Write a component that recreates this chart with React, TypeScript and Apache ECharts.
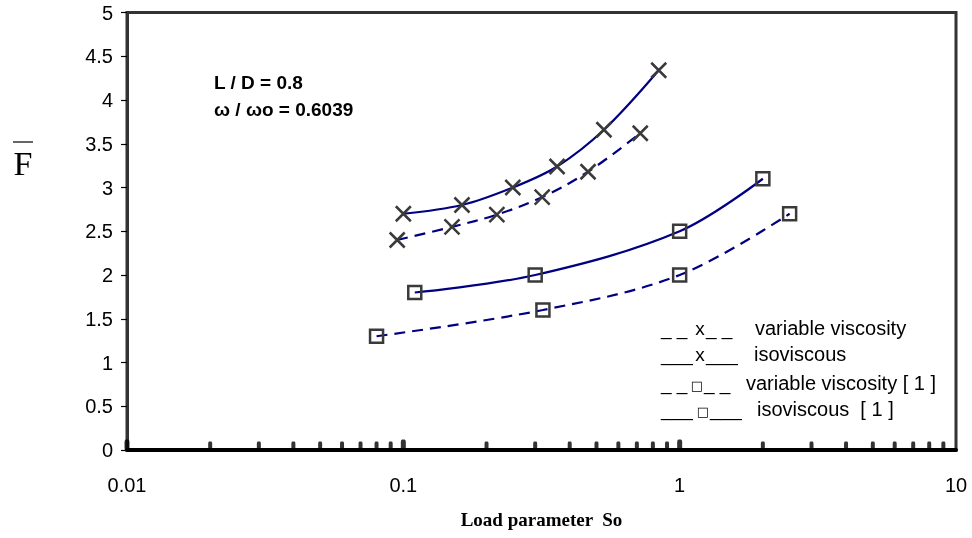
import React, { useEffect, useRef } from "react";
import * as echarts from "echarts";

// x: load parameter So, y: F-bar
const isoX = [0.1, 0.163, 0.249, 0.36, 0.532, 0.84];
const isoY = [2.7, 2.8, 3.0, 3.24, 3.66, 4.34];
const varX = [0.095, 0.15, 0.218, 0.318, 0.466, 0.72];
const varY = [2.4, 2.55, 2.69, 2.89, 3.18, 3.62];
const isoRefX = [0.11, 0.3, 1.0, 2.0];
const isoRefY = [1.8, 2.0, 2.5, 3.1];
const varRefX = [0.08, 0.32, 1.0, 2.5];
const varRefY = [1.3, 1.6, 2.0, 2.7];

const majorTicks = [0.01, 0.1, 1];
const minorTicks = [
  0.02, 0.03, 0.04, 0.05, 0.06, 0.07, 0.08, 0.09,
  0.2, 0.3, 0.4, 0.5, 0.6, 0.7, 0.8, 0.9,
  2, 3, 4, 5, 6, 7, 8, 9,
];

const legendPre = ["_ _", "___", "_ _", "___"];
const legendSym = ["x", "x", "\u25A1", "\u25A1"];
const legendPost = ["_ _", "___", "_ _", "___"];
const legendLabels = [
  "variable viscosity",
  "isoviscous",
  "variable viscosity [ 1 ]",
  "isoviscous  [ 1 ]",
];

const X_MIN = 0.01;
const X_MAX = 10;
const Y_MIN = 0;
const Y_MAX = 5;

const zip = (xs: number[], ys: number[]) => xs.map((x, i) => [x, ys[i]]);

const NAVY = "#000080";
const MARK = "#3a3a3a";
const CROSS = "path://M0,0L10,10M10,0L0,10";

export default function App() {
  const ref = useRef<HTMLDivElement>(null);
  useEffect(() => {
    if (!ref.current) return;
    const chart = echarts.init(ref.current, null, { renderer: "svg" });
    const sans = "'Liberation Sans', Arial, sans-serif";
    const lineSeries = (
      name: string,
      data: number[][],
      dashed: boolean,
      symbol: string,
      size: number
    ) => ({
      name,
      type: "line",
      data,
      smooth: 0.35,
      symbol,
      symbolSize: size,
      showSymbol: true,
      lineStyle: { color: NAVY, width: 2.2, type: dashed ? [11, 7] : "solid" },
      itemStyle: { color: "rgba(0,0,0,0)", borderColor: MARK, borderWidth: 2.5 },
      z: 3,
    });
    // legend layout (pixels)
    const legRowY = [328, 354, 383, 409];
    const legSymX = [700, 700, 697, 703];
    const legLabelX = [755, 754, 746, 757];
    const graphic: any[] = [
      {
        type: "text",
        x: 214,
        y: 82,
        style: { text: "L / D = 0.8", font: `bold 19px ${sans}`, fill: "#000", verticalAlign: "middle" },
      },
      {
        type: "text",
        x: 214,
        y: 109,
        style: { text: "\u03C9 / \u03C9o = 0.6039", font: `bold 19px ${sans}`, fill: "#000", verticalAlign: "middle" },
      },
      {
        type: "text",
        x: 23,
        y: 163,
        style: { text: "F", font: "34px 'Liberation Serif', 'Times New Roman', serif", fill: "#000", align: "center", verticalAlign: "middle" },
      },
      {
        type: "line",
        shape: { x1: 13, y1: 142, x2: 33, y2: 142 },
        style: { stroke: "#000", lineWidth: 1.2 },
      },
    ];
    legendLabels.forEach((label, i) => {
      const isX = legendSym[i] === "x";
      graphic.push({
        type: "text",
        x: 661,
        y: legRowY[i],
        style: { text: legendPre[i], font: `19px ${sans}`, fill: "#000", verticalAlign: "middle" },
      });
      graphic.push({
        type: "text",
        x: legSymX[i],
        y: legRowY[i] + (isX ? 0 : 2),
        style: {
          text: legendSym[i],
          font: isX ? `19px ${sans}` : "13px 'DejaVu Sans'",
          fill: "#000",
          align: "center",
          verticalAlign: "middle",
        },
      });
      graphic.push({
        type: "text",
        x: legSymX[i] + (isX ? 6 : 7),
        y: legRowY[i],
        style: { text: legendPost[i], font: `19px ${sans}`, fill: "#000", verticalAlign: "middle" },
      });
      graphic.push({
        type: "text",
        x: legLabelX[i],
        y: legRowY[i],
        style: { text: label, font: `20px ${sans}`, fill: "#000", verticalAlign: "middle" },
      });
    });

    const labelFmt = (v: number) =>
      v >= 1 ? String(Math.round(v)) : String(Number(v.toPrecision(1)));

    chart.setOption({
      animation: false,
      grid: {
        left: 127,
        right: 16,
        top: 12.5,
        bottom: 88,
        show: true,
        borderColor: "#333",
        borderWidth: 3,
      },
      xAxis: {
        type: "log",
        logBase: 10,
        min: X_MIN,
        max: X_MAX,
        name: "Load parameter  So",
        nameLocation: "middle",
        nameGap: 60,
        nameTextStyle: {
          fontFamily: "'Liberation Serif', 'Times New Roman', serif",
          fontWeight: "bold",
          fontSize: 19,
          color: "#000",
        },
        axisLine: { show: true, onZero: false, lineStyle: { color: "#000", width: 4 } },
        axisTick: { show: false },
        splitLine: { show: false },
        axisLabel: {
          fontFamily: sans,
          fontSize: 20,
          color: "#000",
          margin: 25,
          showMaxLabel: true,
          showMinLabel: true,
          formatter: labelFmt,
        },
        z: 5,
      },
      yAxis: {
        type: "value",
        min: Y_MIN,
        max: Y_MAX,
        interval: 0.5,
        axisLine: { show: true, onZero: false, lineStyle: { color: "#333", width: 3 } },
        axisTick: { show: true, length: 6, lineStyle: { color: "#000", width: 1.2 } },
        splitLine: { show: false },
        axisLabel: { fontFamily: sans, fontSize: 20, color: "#000", margin: 14 },
      },
      graphic,
      series: [
        lineSeries("variable viscosity", zip(varX, varY), true, CROSS, 15),
        lineSeries("isoviscous", zip(isoX, isoY), false, CROSS, 15),
        lineSeries("variable viscosity [ 1 ]", zip(varRefX, varRefY), true, "rect", 13),
        lineSeries("isoviscous [ 1 ]", zip(isoRefX, isoRefY), false, "rect", 13),
        {
          type: "scatter",
          data: minorTicks.map((v) => [v, 0]),
          symbol: "roundRect",
          symbolSize: [4, 9],
          symbolOffset: [0, -4],
          itemStyle: { color: "#000" },
          silent: true,
          z: 6,
        },
        {
          type: "scatter",
          data: majorTicks.map((v) => [v, 0]),
          symbol: "roundRect",
          symbolSize: [5, 11],
          symbolOffset: [0, -5],
          itemStyle: { color: "#000" },
          silent: true,
          z: 6,
        },
      ],
    });
    return () => chart.dispose();
  }, []);
  return (
    <div
      ref={ref}
      style={{ position: "fixed", left: 0, top: 0, width: 972, height: 538 }}
    />
  );
}
